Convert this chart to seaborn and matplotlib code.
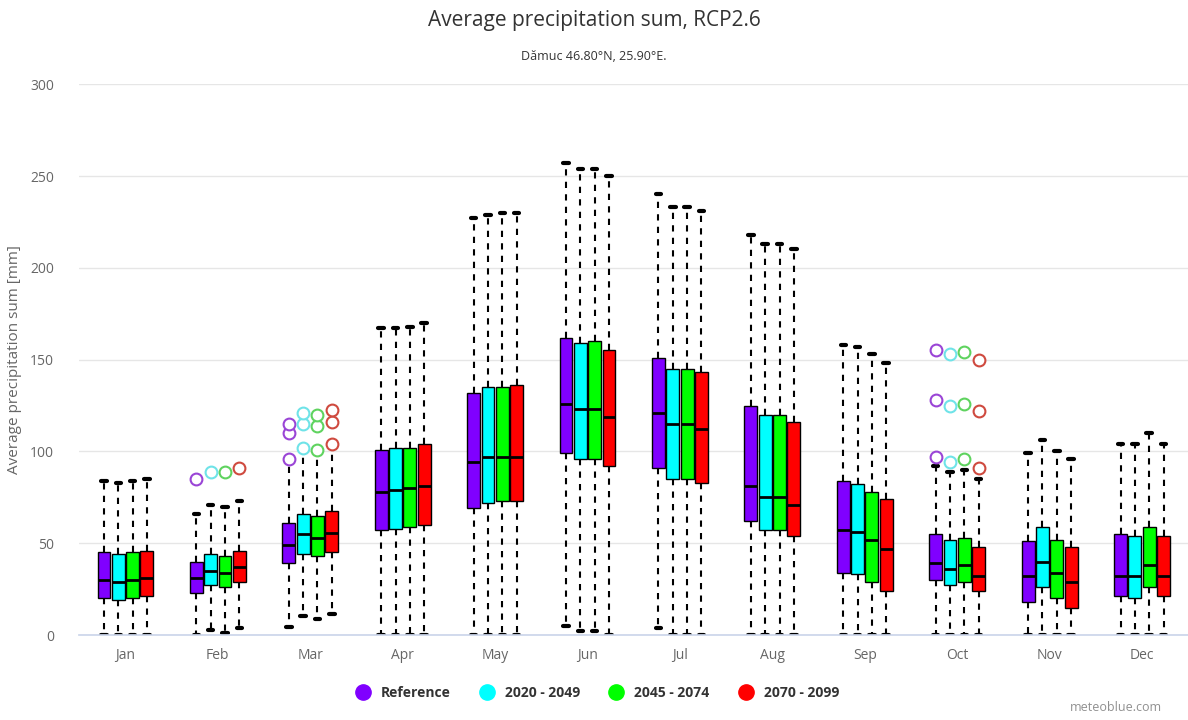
import pandas as pd
import seaborn as sns
import matplotlib.pyplot as plt
from matplotlib.lines import Line2D

# months and climate periods
months = ["Jan", "Feb", "Mar", "Apr", "May", "Jun", "Jul", "Aug", "Sep", "Oct", "Nov", "Dec"]
periods = ["Reference", "2020 - 2049", "2045 - 2074", "2070 - 2099"]

# box statistics: whisker low, q1, median, q3, whisker high
ref_low = [0, 0, 4.5, 0, 0, 5, 4, 0, 0, 0, 0, 0]
ref_q1 = [20, 23, 39, 57, 69, 99, 91, 62, 34, 30, 18, 21]
ref_med = [30, 31, 49, 78, 94, 126, 121, 81, 57, 39, 32, 32]
ref_q3 = [45, 40, 61, 101, 132, 162, 151, 125, 84, 55, 51, 55]
ref_high = [84, 66, 96, 167, 227, 257, 240, 218, 158, 92, 99, 104]

p1_low = [0, 3, 10.5, 0, 0, 2, 0, 0, 0, 0, 0, 0]
p1_q1 = [19, 27, 44, 58, 72, 96, 85, 57, 33, 27, 26, 20]
p1_med = [29, 35, 55, 79, 97, 123, 115, 75, 56, 36, 40, 32]
p1_q3 = [44, 44, 66, 102, 135, 159, 145, 120, 82, 52, 59, 54]
p1_high = [83, 71, 101.5, 167, 229, 254, 233, 213, 157, 89, 106, 104]

p2_low = [0, 1, 8.6, 0, 0, 2, 0, 0, 0, 0, 0, 0]
p2_q1 = [20, 26, 43, 59, 73, 96, 85, 57, 29, 29, 20, 26]
p2_med = [30, 34, 53, 80, 97, 123, 115, 75, 52, 38, 34, 38]
p2_q3 = [45, 43, 65, 102, 135, 160, 145, 120, 78, 53, 52, 59]
p2_high = [84, 70, 100.5, 168, 230, 254, 233, 213, 153, 90, 100, 110]

p3_low = [0, 4, 11.4, 0, 0, 0, 0, 0, 0, 0, 0, 0]
p3_q1 = [21, 29, 45, 60, 73, 92, 83, 54, 24, 24, 15, 21]
p3_med = [31, 37, 55.5, 81, 97, 119, 112, 71, 47, 32, 29, 32]
p3_q3 = [46, 46, 67.5, 104, 136, 155, 143, 116, 74, 48, 48, 54]
p3_high = [85, 73, 103.5, 170, 230, 250, 231, 210, 148, 85, 96, 104]

# outliers per month
ref_out = [[], [85], [96, 110, 115], [], [], [], [], [], [], [97, 128, 155], [], []]
p1_out = [[], [89], [102, 115, 121], [], [], [], [], [], [], [94, 125, 153], [], []]
p2_out = [[], [89], [101, 114, 120], [], [], [], [], [], [], [96, 126, 154], [], []]
p3_out = [[], [91], [104, 116, 122.5], [], [], [], [], [], [], [91, 122, 150], [], []]

colors = ["#8000ff", "#00ffff", "#00ff00", "#ff0000"]
out_colors = ["#9a45d6", "#6fe3e8", "#5fd35f", "#cf4a3f"]

stats = [
    (ref_low, ref_q1, ref_med, ref_q3, ref_high),
    (p1_low, p1_q1, p1_med, p1_q3, p1_high),
    (p2_low, p2_q1, p2_med, p2_q3, p2_high),
    (p3_low, p3_q1, p3_med, p3_q3, p3_high),
]
outliers = [ref_out, p1_out, p2_out, p3_out]

# five points per box give exactly the quartiles, whiskers span min..max
rows = []
for period, cols in zip(periods, stats):
    for i, m in enumerate(months):
        for v in (c[i] for c in cols):
            rows.append({"month": m, "period": period, "value": v})
df = pd.DataFrame(rows)

sns.set_theme(style="white")
plt.rcParams["font.family"] = ["Open Sans", "DejaVu Sans"]

fig = plt.figure(figsize=(11.88, 7.2), dpi=100)
ax = fig.add_axes([0.0667, 0.118, 0.9335, 0.765])

box_width = 0.62
sns.boxplot(
    data=df, x="month", y="value", hue="period",
    order=months, hue_order=periods, palette=colors, saturation=1,
    whis=(0, 100), width=box_width, gap=0.1, linecolor="black",
    linewidth=1, legend=False, ax=ax,
    medianprops=dict(color="black", linewidth=2),
    whiskerprops=dict(linestyle=(0, (3, 3)), linewidth=1.5),
    capprops=dict(linewidth=3),
    capwidths=0.06,
)

# hollow outlier circles at the dodged box positions
n = len(periods)
for j, outs in enumerate(outliers):
    offset = box_width / n * j + box_width / n / 2 - box_width / 2
    xs, ys = [], []
    for i, vals in enumerate(outs):
        for v in vals:
            xs.append(i + offset)
            ys.append(v)
    ax.scatter(xs, ys, s=72, facecolors="white", edgecolors=out_colors[j],
               linewidths=1.5, zorder=5)

ax.set_xlim(-0.5, 11.5)
ax.set_ylim(0, 300)
ax.set_yticks([0, 50, 100, 150, 200, 250, 300])
ax.yaxis.grid(True, color="#e6e6e6", linewidth=1)
ax.set_axisbelow(True)
for side in ["left", "right", "top"]:
    ax.spines[side].set_visible(False)
ax.spines["bottom"].set_color("#ccd6eb")
ax.tick_params(axis="both", length=0, colors="#666666", labelsize=10)
ax.tick_params(axis="y", pad=18)
ax.tick_params(axis="x", pad=9)
ax.set_xlabel("")
ax.set_ylabel("Average precipitation sum [mm]", color="#666666", fontsize=11, labelpad=6)

fig.text(0.5, 0.972, "Average precipitation sum, RCP2.6", ha="center", va="center",
         fontsize=15, color="#333333")
fig.text(0.5, 0.921, "Dămuc 46.80°N, 25.90°E.", ha="center", va="center",
         fontsize=9, color="#333333")

handles = [Line2D([], [], marker="o", linestyle="", markersize=11,
                  markerfacecolor=c, markeredgecolor=c) for c in colors]
leg = fig.legend(handles, periods, loc="center", bbox_to_anchor=(0.5, 0.038), ncol=4,
                 frameon=False, handletextpad=0.3, columnspacing=1.6,
                 prop={"weight": "bold", "size": 10})
for t in leg.get_texts():
    t.set_color("#333333")

fig.text(0.978, 0.017, "meteoblue.com", ha="right", va="center", fontsize=9, color="#909090")

plt.savefig("out.png", dpi=100)
